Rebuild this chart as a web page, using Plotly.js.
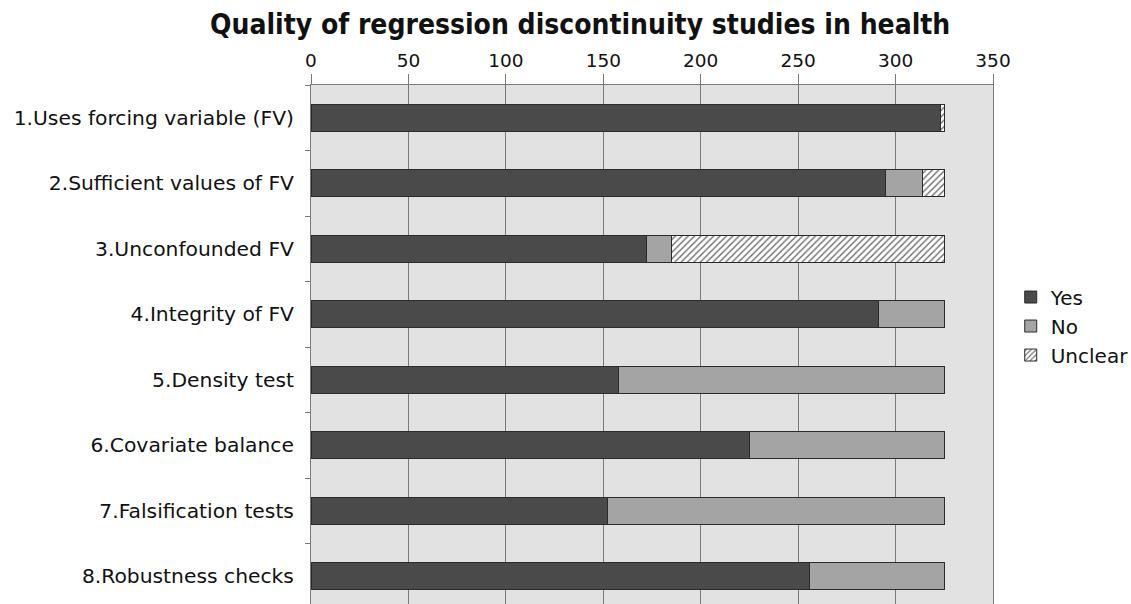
<!DOCTYPE html>
<html>
<head>
<meta charset="utf-8">
<script src="https://cdn.plot.ly/plotly-3.0.1.min.js"></script>
<style>
html,body{margin:0;padding:0;overflow:hidden;background:#fff;}
#chart{width:1131px;height:630px;}
</style>
</head>
<body>
<div id="chart"></div>
<script>
const categories = [
  "1.Uses forcing variable (FV)",
  "2.Sufficient values of FV",
  "3.Unconfounded FV",
  "4.Integrity of FV",
  "5.Density test",
  "6.Covariate balance",
  "7.Falsification tests",
  "8.Robustness checks"
];
const yesValues = [323, 295, 172, 291, 158, 225, 152, 256];
const noValues = [0, 19, 13, 34, 167, 100, 173, 69];
const unclearValues = [2, 11, 140, 0, 0, 0, 0, 0];
const xTicks = [0, 50, 100, 150, 200, 250, 300, 350];

const FONT = "DejaVu Sans, Verdana, sans-serif";
const lineStyle = {color: "#2b2b2b", width: 1};

const traces = [
  {type: "bar", orientation: "h", name: "Yes", y: categories, x: yesValues,
   marker: {color: "#4a4a4a", line: lineStyle}},
  {type: "bar", orientation: "h", name: "No", y: categories, x: noValues,
   marker: {color: "#a4a4a4", line: lineStyle}},
  {type: "bar", orientation: "h", name: "Unclear", y: categories, x: unclearValues,
   marker: {color: "#ffffff", line: lineStyle,
            pattern: {shape: "/", fgcolor: "#6a6a6a", bgcolor: "#ffffff", size: 4.5, solidity: 0.3}}}
];

const layout = {
  width: 1131, height: 630,
  barmode: "stack",
  bargap: 0.59,
  paper_bgcolor: "#ffffff",
  plot_bgcolor: "#e2e2e2",
  margin: {l: 311, r: 138, t: 85, b: 21, autoexpand: false},
  title: {text: "Quality of regression discontinuity studies in health",
          font: {family: "DejaVu Sans Condensed, DejaVu Sans, sans-serif", size: 28, color: "#111", weight: "bold"},
          x: 0.513, xref: "container", xanchor: "center", y: 0.962, yref: "container", yanchor: "middle"},
  xaxis: {side: "top", range: [0, 350], tickvals: xTicks, ticktext: xTicks.map(String),
          showgrid: true, gridcolor: "#7a7a7a", gridwidth: 1,
          showline: true, linecolor: "#7a7a7a", linewidth: 1, mirror: true,
          ticks: "outside", ticklen: 10, tickcolor: "#7a7a7a", tickwidth: 1,
          zeroline: false, fixedrange: true,
          tickfont: {family: FONT, size: 18.5, color: "#111"}},
  yaxis: {type: "category", autorange: "reversed", tickson: "boundaries",
          showgrid: false, showline: true, linecolor: "#7a7a7a", linewidth: 1, mirror: true,
          ticks: "outside", ticklen: 5, tickcolor: "#7a7a7a", tickwidth: 1,
          ticklabelstandoff: 12,
          tickfont: {family: FONT, size: 20.3, color: "#111"}},
  legend: {x: 1.026, xanchor: "left", y: 0.54, yanchor: "middle",
           bgcolor: "rgba(0,0,0,0)",
           font: {family: FONT, size: 20, color: "#111"},
           itemwidth: 30, tracegroupgap: 0, traceorder: "normal"},
  showlegend: true
};

Plotly.newPlot("chart", traces, layout, {displayModeBar: false, staticPlot: true});
</script>
</body>
</html>
